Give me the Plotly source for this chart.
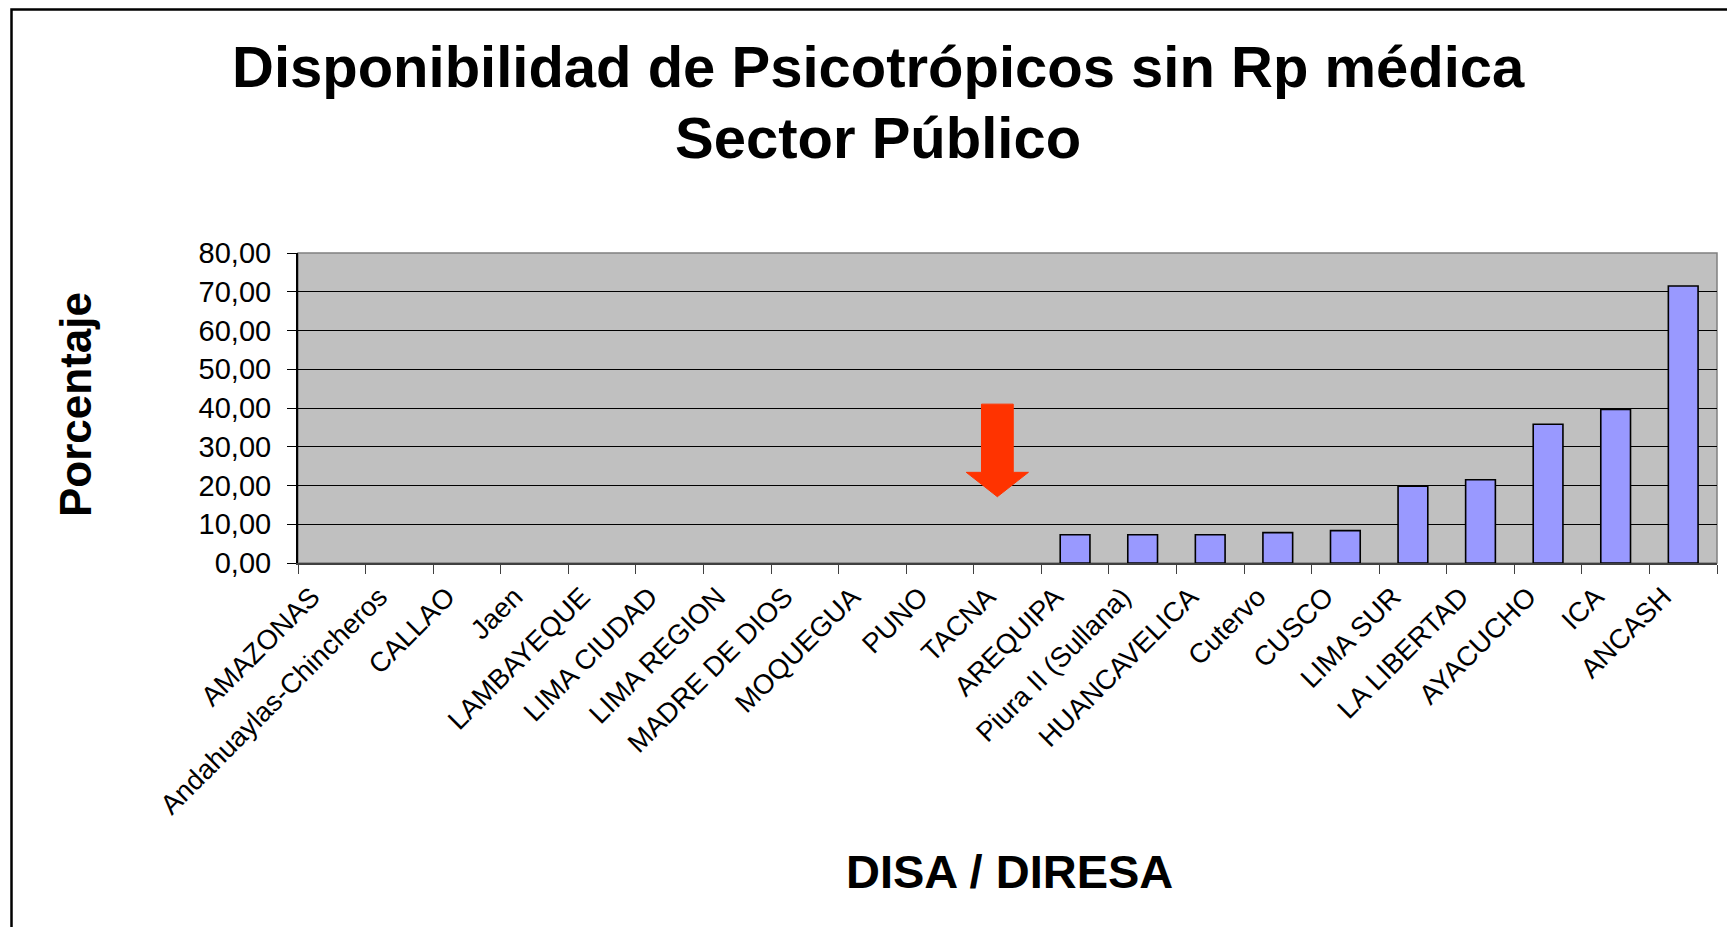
import plotly.graph_objects as go

categories = ["AMAZONAS", "Andahuaylas-Chincheros", "CALLAO", "Jaen", "LAMBAYEQUE",
              "LIMA CIUDAD", "LIMA REGION", "MADRE DE DIOS", "MOQUEGUA", "PUNO", "TACNA",
              "AREQUIPA", "Piura II (Sullana)", "HUANCAVELICA", "Cutervo", "CUSCO",
              "LIMA SUR", "LA LIBERTAD", "AYACUCHO", "ICA", "ANCASH"]
values = [0, 0, 0, 0, 0, 0, 0, 0, 0, 0, 0,
          7.3, 7.3, 7.3, 7.85, 8.35, 19.8, 21.5, 35.8, 39.6, 71.5]
y_ticks = [0, 10, 20, 30, 40, 50, 60, 70, 80]

title_line1 = "Disponibilidad de Psicotrópicos sin Rp médica"
title_line2 = "Sector Público"
x_title = "DISA / DIRESA"
y_title = "Porcentaje"

FONT = "Liberation Sans, Arial, sans-serif"
n = len(categories)
xs = list(range(n))

# page has an 8px body margin; work in page pixel coordinates
OFF = 8
PAGE_W, PAGE_H = 1735, 935
W, H = PAGE_W - 2 * OFF, PAGE_H - 2 * OFF
PL, PR, PT, PB = 298, 1717, 253, 563   # plot area in page pixels
L, T = PL - OFF, PT - OFF
R, B = W - (PR - OFF), H - (PB - OFF)
pw, ph = PR - PL, PB - PT

def px_to_paper_x(px):
    return (px - PL) / pw

def px_to_paper_y(py):
    return (PB - py) / ph

fig = go.Figure()
fig.add_trace(go.Bar(
    x=xs, y=values, width=0.44,
    marker=dict(color="#9999FF",
                line=dict(color="black", width=[1.6 if v > 0 else 0 for v in values])),
    hoverinfo="x+y", showlegend=False,
))

# arrow pointing at TACNA
ti = categories.index("TACNA")
cx = ti - 0.15
sh, hh = 0.235, 0.46
ytop, ybase, ytip = 41, 23.4, 17.1
path = (f"M {cx-sh},{ytop} L {cx+sh},{ytop} L {cx+sh},{ybase} L {cx+hh},{ybase} "
        f"L {cx},{ytip} L {cx-hh},{ybase} L {cx-sh},{ybase} Z")

shapes = [
    dict(type="path", path=path, xref="x", yref="y", fillcolor="#FF3300",
         line=dict(color="#FF3300", width=1), layer="above"),
    # plot border (top/right gray)
    dict(type="rect", xref="paper", yref="paper", x0=0, x1=1, y0=0, y1=1,
         line=dict(color="#808080", width=1.5), layer="below"),
    # outer frame
    dict(type="rect", xref="paper", yref="paper",
         x0=px_to_paper_x(11.5), x1=px_to_paper_x(PAGE_W + 40),
         y0=px_to_paper_y(PAGE_H + 40), y1=px_to_paper_y(9.5),
         line=dict(color="black", width=2.5)),
]

annotations = [
    dict(text=f"<b>{title_line1}</b>", xref="paper", yref="paper",
         x=px_to_paper_x(878), y=px_to_paper_y(67), xanchor="center", yanchor="middle",
         showarrow=False, font=dict(family=FONT, size=58, color="black")),
    dict(text=f"<b>{title_line2}</b>", xref="paper", yref="paper",
         x=px_to_paper_x(878), y=px_to_paper_y(137), xanchor="center", yanchor="middle",
         showarrow=False, font=dict(family=FONT, size=58, color="black")),
    dict(text=f"<b>{x_title}</b>", xref="paper", yref="paper",
         x=px_to_paper_x(1009), y=px_to_paper_y(871), xanchor="center", yanchor="middle",
         showarrow=False, font=dict(family=FONT, size=47, color="black")),
    dict(text=f"<b>{y_title}</b>", xref="paper", yref="paper", textangle=-90,
         x=px_to_paper_x(75), y=px_to_paper_y(405), xanchor="center", yanchor="middle",
         showarrow=False, font=dict(family=FONT, size=44, color="black")),
]

fig.update_layout(
    width=W, height=H,
    margin=dict(l=L, r=R, t=T, b=B, autoexpand=False),
    paper_bgcolor="white", plot_bgcolor="#C0C0C0",
    separators=",.",
    shapes=shapes, annotations=annotations,
    bargap=0.56,
    font=dict(family=FONT, color="black"),
)
fig.update_xaxes(
    range=[-0.5, n - 0.5], tickmode="array", tickvals=xs, ticktext=categories,
    tickangle=-45, ticks="outside", ticklen=5, tickcolor="rgba(0,0,0,0)",
    ticklabelshift=-20,
    tickfont=dict(family=FONT, size=27.5, color="black"),
    showgrid=False, zeroline=False, automargin=False,
    showline=True, linecolor="#404040", linewidth=1.5,
    minor=dict(tickmode="array", tickvals=[i - 0.5 for i in range(n + 1)],
               ticks="outside", ticklen=9, tickcolor="#404040", tickwidth=1.2,
               showgrid=False),
)
fig.update_yaxes(
    range=[0, 80], tickmode="array", tickvals=y_ticks, tickformat=".2f",
    ticks="outside", ticklen=9, tickcolor="black", tickwidth=1,
    ticklabelstandoff=10,
    tickfont=dict(family=FONT, size=29, color="black"),
    showgrid=True, gridcolor="black", gridwidth=1, zeroline=False, automargin=False,
    showline=True, linecolor="black", linewidth=2,
)

fig.write_html("out.html")
